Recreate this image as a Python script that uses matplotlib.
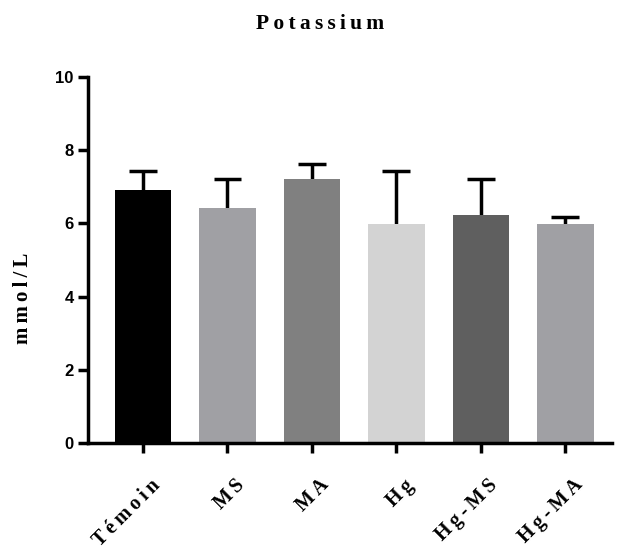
import matplotlib
matplotlib.use("Agg")
import matplotlib.pyplot as plt
from matplotlib.transforms import ScaledTranslation

categories = ["Témoin", "MS", "MA", "Hg", "Hg-MS", "Hg-MA"]
means = [6.91, 6.43, 7.20, 5.98, 6.23, 5.98]
sd_upper = [0.52, 0.77, 0.42, 1.46, 0.97, 0.20]
colors = ["#000000", "#a0a0a4", "#808080", "#d3d3d3", "#5f5f5f", "#a0a0a4"]
yticks = [0, 2, 4, 6, 8, 10]
title = "Potassium"
ylabel = "mmol/L"


def spaced(s):
    # mimic the wide letter spacing of the original rendering
    return "\u2009".join(s)


serif = ["Liberation Serif", "DejaVu Serif"]

fig = plt.figure(figsize=(6.34, 5.52), dpi=100)
ax = fig.add_axes([0.139, 0.1975, 0.826, 0.663])

x = list(range(len(categories)))
bar_w = 0.67
cap_half = 0.165
ax.bar(x, means, width=bar_w, color=colors, edgecolor="none", zorder=2)
tops = [m + s for m, s in zip(means, sd_upper)]
ax.vlines(x, means, tops, colors="black", linewidth=2.5, zorder=1)
ax.hlines(tops, [xi - cap_half for xi in x], [xi + cap_half for xi in x],
          colors="black", linewidth=2.5, zorder=1)

ax.set_xlim(-0.65, 5.55)
ax.set_ylim(0, 10)
ax.set_yticks(yticks)
ax.set_yticklabels([str(v) for v in yticks], fontsize=12, fontweight="bold",
                   family="Liberation Sans")
ax.set_xticks(x)
ax.set_xticklabels([spaced(c) for c in categories], rotation=45, ha="right",
                   va="top", rotation_mode="anchor", fontsize=14.5,
                   fontweight="bold", family=serif)
ax.tick_params(axis="both", width=2.5, length=7, direction="out")
ax.tick_params(axis="x", pad=12)
offset = ScaledTranslation(7 / 100, -6 / 100, fig.dpi_scale_trans)
for lab in ax.get_xticklabels():
    lab.set_transform(lab.get_transform() + offset)
for s in ["top", "right"]:
    ax.spines[s].set_visible(False)
for s in ["left", "bottom"]:
    ax.spines[s].set_linewidth(2.5)

ax.set_ylabel(spaced(ylabel), fontsize=15, fontweight="bold", family=serif)
ax.yaxis.set_label_coords(-0.106, 0.396)
fig.text(0.505, 0.957, spaced(title), ha="center", va="center", fontsize=15.5,
         fontweight="bold", family=serif)

fig.savefig("out.png", dpi=100)
